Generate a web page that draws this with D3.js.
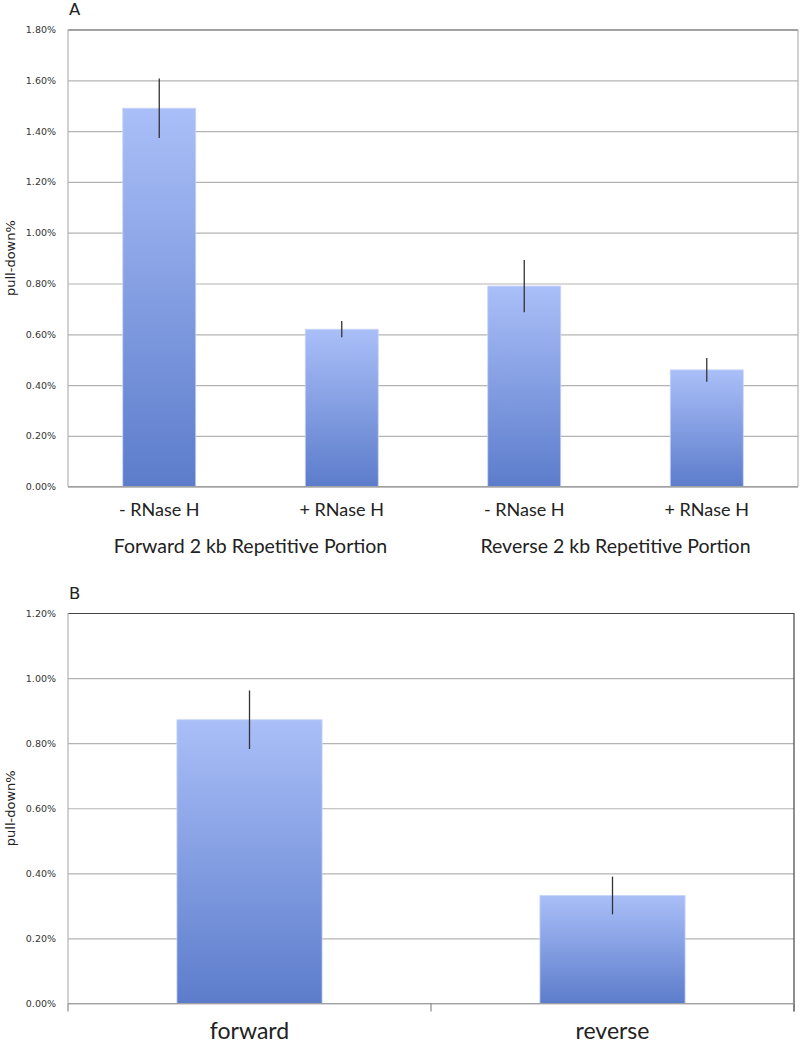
<!DOCTYPE html>
<html>
<head>
<meta charset="utf-8">
<script src="https://cdn.jsdelivr.net/npm/d3@7"></script>
<style>
  body { margin: 0; background: #fff; }
  svg { display: block; }
  .tick text { font-family: "DejaVu Sans", sans-serif; font-size: 9.5px; fill: #333; }
  .cat { font-family: Lato, "Open Sans", sans-serif; fill: #222; }
</style>
</head>
<body>
<div id="chart"></div>
<script>
// ---- Data: panel A ----
const catsA = ["- RNase H", "+ RNase H", "- RNase H ", "+ RNase H "];
const catLabelsA = ["- RNase H", "+ RNase H", "- RNase H", "+ RNase H"];
const valuesA = [1.49, 0.62, 0.79, 0.46];
const errorsA = [0.117, 0.032, 0.103, 0.047];
const groupsA = ["Forward 2 kb Repetitive Portion", "Reverse 2 kb Repetitive Portion"];
const ticksA = [0, 0.2, 0.4, 0.6, 0.8, 1.0, 1.2, 1.4, 1.6, 1.8];

// ---- Data: panel B ----
const catsB = ["forward", "reverse"];
const valuesB = [0.872, 0.332];
const errorsB = [0.09, 0.058];
const ticksB = [0, 0.2, 0.4, 0.6, 0.8, 1.0, 1.2];

const W = 800, H = 1045;
const svg = d3.select("#chart").append("svg").attr("width", W).attr("height", H);

// bar gradient
const grad = svg.append("defs").append("linearGradient")
    .attr("id", "barGrad").attr("x1", 0).attr("y1", 0).attr("x2", 0).attr("y2", 1);
grad.append("stop").attr("offset", "0%").attr("stop-color", "#aabff8");
grad.append("stop").attr("offset", "100%").attr("stop-color", "#5c7ccb");

const fmt = d => d.toFixed(2) + "%";

function drawPanel(opts) {
    const { left, right, top, bottom, cats, values, errors, ticks, letter, bottomTicks } = opts;

    const x = d3.scaleBand().domain(cats).range([left, right])
        .paddingInner(0.6).paddingOuter(0.3);
    const y = d3.scaleLinear().domain([0, d3.max(ticks)]).range([bottom, top]);

    // grid + left axis
    const yAxis = svg.append("g")
        .attr("transform", `translate(${left},0)`)
        .call(d3.axisLeft(y).tickValues(ticks).tickFormat(fmt).tickSize(-(right - left)).tickPadding(12));
    yAxis.select(".domain").remove();
    yAxis.selectAll(".tick line").attr("stroke", "#b3b3b3").attr("stroke-width", 1.2);
    yAxis.selectAll(".tick").filter(d => d === d3.max(ticks))
        .select("line").attr("stroke", "#444");

    // left and right frame lines
    svg.append("line").attr("x1", left).attr("x2", left).attr("y1", top).attr("y2", bottom)
        .attr("stroke", "#b3b3b3").attr("stroke-width", 1.2);
    svg.append("line").attr("x1", right).attr("x2", right).attr("y1", top)
        .attr("y2", bottomTicks ? bottom + 8 : bottom)
        .attr("stroke", bottomTicks ? "#444" : "#b3b3b3").attr("stroke-width", 1.2);

    // bars
    svg.selectAll(null).data(cats).join("rect")
        .attr("x", d => x(d))
        .attr("y", (d, i) => y(values[i]))
        .attr("width", x.bandwidth())
        .attr("height", (d, i) => bottom - y(values[i]))
        .attr("fill", "url(#barGrad)")
        .attr("stroke", "#c9d5f5").attr("stroke-width", 0.8);

    // bottom line over bars
    svg.append("line").attr("x1", left).attr("x2", right).attr("y1", bottom).attr("y2", bottom)
        .attr("stroke", "#a0a0a0").attr("stroke-width", 1.2);

    // category boundary ticks
    if (bottomTicks) {
        const step = x.step();
        const edges = d3.range(cats.length + 1).map(i => left + i * step);
        svg.selectAll(null).data(edges).join("line")
            .attr("x1", d => d).attr("x2", d => d)
            .attr("y1", bottom).attr("y2", bottom + 8)
            .attr("stroke", "#777").attr("stroke-width", 1);
    }

    // error bars
    svg.selectAll(null).data(cats).join("line")
        .attr("x1", d => x(d) + x.bandwidth() / 2)
        .attr("x2", d => x(d) + x.bandwidth() / 2)
        .attr("y1", (d, i) => y(values[i] + errors[i]))
        .attr("y2", (d, i) => y(values[i] - errors[i]))
        .attr("stroke", "#333").attr("stroke-width", 1.3);

    // panel letter
    svg.append("text").attr("x", left + 1).attr("y", top - 14.5)
        .attr("font-family", "DejaVu Sans, sans-serif").attr("font-size", 16.5)
        .attr("fill", "#222").text(letter);

    // y label
    svg.append("text")
        .attr("transform", `translate(15,${(top + bottom) / 2}) rotate(-90)`)
        .attr("text-anchor", "middle")
        .attr("font-family", "DejaVu Sans, sans-serif").attr("font-size", 13)
        .attr("fill", "#222").text("pull-down%");

    return x;
}

// ---- Panel A ----
const xA = drawPanel({
    left: 68, right: 798, top: 29.5, bottom: 486.7,
    cats: catsA, values: valuesA, errors: errorsA, ticks: ticksA, letter: "A", bottomTicks: false
});

svg.selectAll(null).data(catsA).join("text")
    .attr("class", "cat")
    .attr("x", d => xA(d) + xA.bandwidth() / 2)
    .attr("y", 516)
    .attr("text-anchor", "middle").attr("font-size", 18)
    .text((d, i) => catLabelsA[i]);

svg.selectAll(null).data(groupsA).join("text")
    .attr("class", "cat")
    .attr("x", (d, i) => (xA(catsA[2 * i]) + xA(catsA[2 * i + 1]) + xA.bandwidth()) / 2)
    .attr("y", 553)
    .attr("text-anchor", "middle").attr("font-size", 19.5)
    .text(d => d);

// ---- Panel B ----
const xB = drawPanel({
    left: 68, right: 794, top: 613, bottom: 1003.5,
    cats: catsB, values: valuesB, errors: errorsB, ticks: ticksB, letter: "B", bottomTicks: true
});

svg.selectAll(null).data(catsB).join("text")
    .attr("class", "cat")
    .attr("x", d => xB(d) + xB.bandwidth() / 2)
    .attr("y", 1039)
    .attr("text-anchor", "middle").attr("font-size", 23)
    .text(d => d);
</script>
</body>
</html>
